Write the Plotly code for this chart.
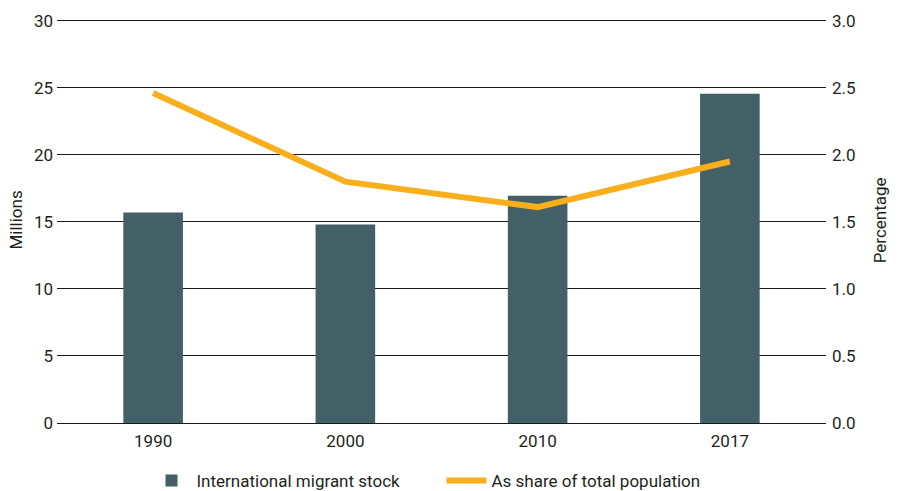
import plotly.graph_objects as go

years = ["1990", "2000", "2010", "2017"]
migrant_stock = [15.7, 14.8, 16.95, 24.55]
share_pct = [2.46, 1.80, 1.61, 1.95]
left_ticks = [0, 5, 10, 15, 20, 25, 30]
right_ticks = [0.0, 0.5, 1.0, 1.5, 2.0, 2.5, 3.0]

FONT = "Roboto, sans-serif"
TXT = "#231f20"

fig = go.Figure()
fig.add_trace(go.Bar(
    x=years, y=migrant_stock, name="International migrant stock",
    marker=dict(color="#426065", line=dict(width=0)), width=0.31, yaxis="y"))
fig.add_trace(go.Scatter(
    x=years, y=share_pct, name="As share of total population", mode="lines",
    line=dict(color="#F9AE1B", width=6), yaxis="y2"))

fig.update_layout(
    width=897, height=491,
    margin=dict(l=57, r=71, t=18, b=68, autoexpand=False),
    paper_bgcolor="white", plot_bgcolor="white",
    font=dict(family=FONT, size=17, color=TXT),
    xaxis=dict(type="category", showgrid=False, showline=False, ticks="",
               tickfont=dict(size=17), ticklabelstandoff=6, automargin=False),
    yaxis=dict(range=[0, 30.2], tickvals=left_ticks, showgrid=True,
               gridcolor="#1a1a1a", gridwidth=1, zeroline=True, zerolinecolor="#1a1a1a",
               zerolinewidth=1, showline=False, ticks="",
               tickfont=dict(size=17), ticklabelstandoff=3, automargin=False),
    yaxis2=dict(range=[0, 3.02], tickvals=right_ticks, tickformat=".1f",
                overlaying="y", side="right", showgrid=False, zeroline=False,
                showline=False, ticks="",
                tickfont=dict(size=17), ticklabelstandoff=5, automargin=False),
    legend=dict(orientation="h", x=0.5, xanchor="center", y=0.0204, yanchor="middle",
                yref="container", font=dict(size=17), traceorder="normal",
                itemwidth=40, entrywidth=240, entrywidthmode="pixels"),
    showlegend=True,
    annotations=[
        dict(text="Millions", xref="paper", yref="paper", x=-0.0546, y=0.5,
             textangle=-90, showarrow=False, font=dict(size=17, color=TXT),
             xanchor="center", yanchor="middle"),
        dict(text="Percentage", xref="paper", yref="paper", x=1.070, y=0.5,
             textangle=-90, showarrow=False, font=dict(size=17, color=TXT),
             xanchor="center", yanchor="middle"),
    ],
)

fig.write_html("out.html", config={"displayModeBar": False},
               post_script="document.body.style.margin='0';document.body.style.overflow='hidden';")
